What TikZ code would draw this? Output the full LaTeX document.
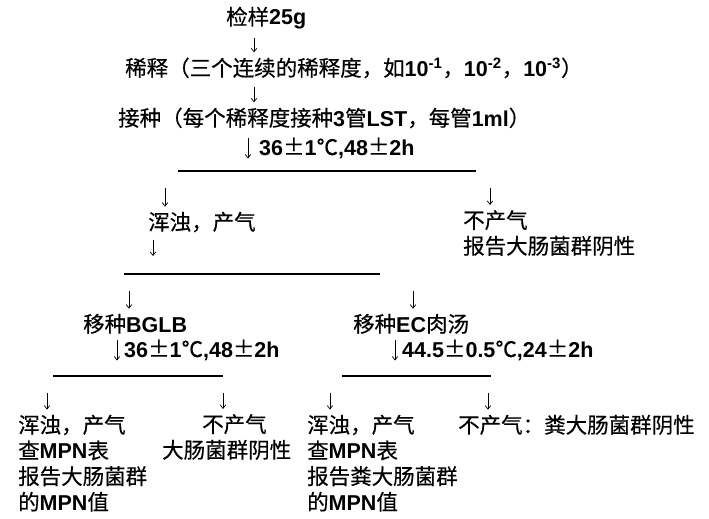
\documentclass[tikz,border=0pt]{standalone}
\usepackage{fontspec}
\setmainfont{Liberation Sans}
\newfontfamily\cjk[FakeBold=0.4]{Noto Sans CJK SC}
\newfontfamily\enfont{Liberation Sans}
\usetikzlibrary{arrows.meta}
\newcommand{\en}[1]{{\enfont\bfseries #1}}

\begin{document}
\begin{tikzpicture}[x=1pt, y=-1pt,
    txt/.style={anchor=base west, inner sep=0pt, align=left, font=\cjk\fontsize{21.5}{25.7}\selectfont},
    arr/.style={-{Straight Barb[length=3.5pt,width=5.5pt]}, line width=0.7pt, shorten <=17pt, shorten >=5pt},
    inarr/.style={-{Straight Barb[length=3.5pt,width=5.5pt]}, line width=0.7pt},
    bar/.style={line width=2pt}
]
\useasboundingbox (0,0) rectangle (709,519);

% Etapes principales
\node[txt] (sample) at (226,25) {检样\en{25g}};
\node[txt] (dilute) at (125,76) {稀释（三个连续的稀释度，如\en{10\textsuperscript{-1}}，\en{10\textsuperscript{-2}}，\en{10\textsuperscript{-3}}）};
\node[txt] (inoc) at (118,126) {接种（每个稀释度接种\en{3}管\en{LST}，每管\en{1ml}）};
\node[txt] (cond1) at (259,155) {\en{36}±\en{1}℃\en{,48}±\en{2h}};

% Premier embranchement (base = derniere ligne)
\node[txt] (pos1) at (148,230) {浑浊，产气};
\node[txt] (neg1) at (463,254) {不产气\\报告大肠菌群阴性};

% Deuxieme embranchement
\node[txt] (bglb) at (83,332) {移种\en{BGLB}};
\node[txt] (ec) at (353,332) {移种\en{EC}肉汤};
\node[txt] (cond2) at (124,357) {\en{36}±\en{1}℃\en{,48}±\en{2h}};
\node[txt] (cond3) at (402,357) {\en{44.5}±\en{0.5}℃\en{,24}±\en{2h}};

% Resultats
\node[txt] (pos2) at (18,510) {浑浊，产气\\查\en{MPN}表\\报告大肠菌群\\的\en{MPN}值};
\node[txt] (neg2) at (162,458) {\hspace*{40pt}不产气\\大肠菌群阴性};
\node[txt] (pos3) at (307,510) {浑浊，产气\\查\en{MPN}表\\报告粪大肠菌群\\的\en{MPN}值};
\node[txt] (neg3) at (458,433) {不产气：粪大肠菌群阴性};

% Barres horizontales
\coordinate (b1w) at (178,171); \coordinate (b1e) at (476,171);
\coordinate (b2w) at (124,274); \coordinate (b2e) at (380,274);
\coordinate (b3w) at (53,376);  \coordinate (b3e) at (223,376);
\coordinate (b4w) at (342,376); \coordinate (b4e) at (491,376);
\draw[bar] (b1w) -- (b1e);
\draw[bar] (b2w) -- (b2e);
\draw[bar] (b3w) -- (b3e);
\draw[bar] (b4w) -- (b4e);

% Points de depart des fleches sur les barres
\coordinate (t1) at (254,0);
\coordinate (t2) at (153,0);
\coordinate (b1a) at (165,171); \coordinate (b1b) at (490,171);
\coordinate (b2a) at (129,274); \coordinate (b2b) at (413,274);
\coordinate (b3a) at (47,376);  \coordinate (b3b) at (223,376);
\coordinate (b4a) at (330,376); \coordinate (b4b) at (488,376);

% Fleches
\draw[arr, shorten <=8pt] (t1 |- sample.south) -- (t1 |- dilute.north);
\draw[arr, shorten <=8pt] (t1 |- dilute.south) -- (t1 |- inoc.north);
\draw[inarr] ([xshift=-11pt]cond1.north west) -- ([xshift=-11pt]cond1.south west);
\draw[arr] (b1a) -- (b1a |- pos1.north);
\draw[arr] (b1b) -- (b1b |- neg1.north);
\draw[arr, shorten <=7pt, shorten >=18pt] (t2 |- pos1.south) -- (t2 |- b2w);
\draw[arr] (b2a) -- (b2a |- bglb.north);
\draw[arr] (b2b) -- (b2b |- ec.north);
\draw[inarr] ([xshift=-7pt]cond2.north west) -- ([xshift=-7pt]cond2.south west);
\draw[inarr] ([xshift=-7pt]cond3.north west) -- ([xshift=-7pt]cond3.south west);
\draw[arr] (b3a) -- (b3a |- pos2.north);
\draw[arr] (b3b) -- (b3b |- neg2.north);
\draw[arr] (b4a) -- (b4a |- pos3.north);
\draw[arr] (b4b) -- (b4b |- neg3.north);

\end{tikzpicture}
\end{document}
